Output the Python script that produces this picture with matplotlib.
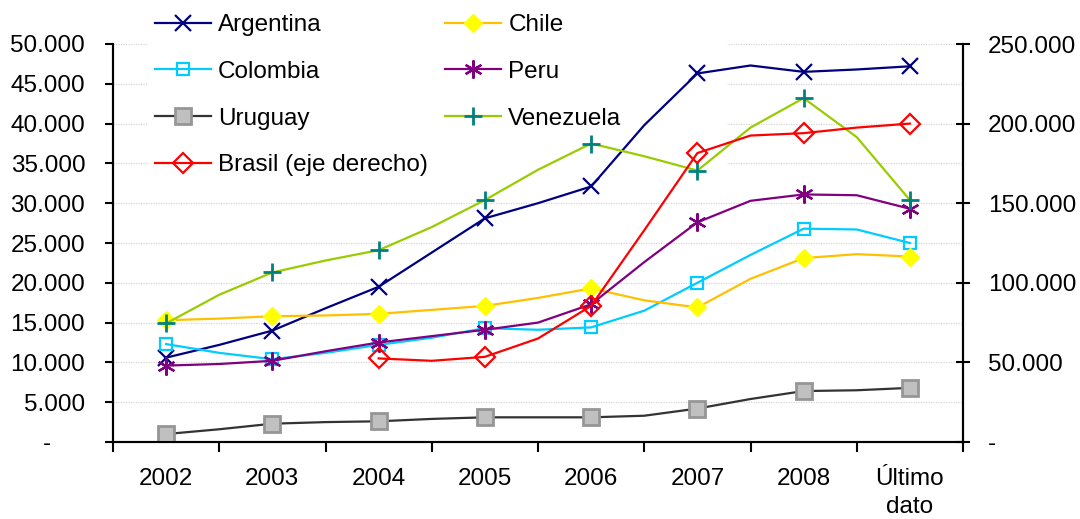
import matplotlib.pyplot as plt
from matplotlib.patches import Rectangle
from matplotlib.ticker import FixedLocator, FuncFormatter
import numpy as np

plt.rcParams['font.family'] = ['Liberation Sans', 'DejaVu Sans']

categories = ["2002", "2003", "2004", "2005", "2006", "2007", "2008", "Último\ndato"]

# values read at every half category (markers only on the whole ones)
argentina = [10.6, 12.2, 14.0, 16.8, 19.5, 23.8, 28.1, 30.0, 32.1, 39.8, 46.3, 47.3, 46.5, 46.8, 47.2]
chile = [15.3, 15.5, 15.8, 15.9, 16.1, 16.6, 17.1, 18.1, 19.3, 17.8, 16.9, 20.5, 23.1, 23.6, 23.3]
colombia = [12.3, 11.2, 10.4, 11.2, 12.2, 13.1, 14.3, 14.1, 14.4, 16.5, 20.0, 23.5, 26.8, 26.7, 25.0]
peru = [9.6, 9.8, 10.2, 11.4, 12.5, 13.3, 14.1, 15.0, 17.3, 22.6, 27.6, 30.3, 31.1, 31.0, 29.3]
uruguay = [1.0, 1.6, 2.3, 2.5, 2.6, 2.9, 3.1, 3.1, 3.1, 3.3, 4.2, 5.4, 6.4, 6.5, 6.8]
venezuela = [14.9, 18.5, 21.3, 22.8, 24.1, 27.0, 30.4, 34.2, 37.5, 35.9, 34.1, 39.5, 43.2, 38.3, 30.4]
brasil = [None, None, None, None, 52.5, 51.0, 53.5, 65.0, 85.5, 133.0, 181.5, 192.5, 194.0, 197.5, 200.0]

x = np.arange(len(argentina)) / 2.0
FS = 17.5


def to_num(vals):
    return np.array([np.nan if v is None else v * 1000 for v in vals])


def miles(v, pos=None):
    if v == 0:
        return "-     "
    return f"{v:,.0f}".replace(",", ".")


fig = plt.figure(figsize=(10.8, 5.19), dpi=100)
ax = fig.add_axes([113 / 1080, 77 / 519, 850 / 1080, 398 / 519])
ax2 = ax.twinx()

every = slice(0, None, 2)
handles = []
series = [
    ("Argentina", argentina, dict(color="#000080", marker="x", ms=11, mew=1.6)),
    ("Colombia", colombia, dict(color="#00CCFF", marker="s", ms=9, mew=1.6, mfc="none")),
    ("Uruguay", uruguay, dict(color="#333333", marker="s", ms=11, mew=2, mfc="#C0C0C0", mec="#969696")),
    ("Chile", chile, dict(color="#FFC000", marker="D", ms=9, mfc="#FFFF00", mec="#FFFF00")),
    ("Peru", peru, dict(color="#800080", marker=(6, 2, 0), ms=13, mew=1.6)),
    ("Venezuela", venezuela, dict(color="#99CC00", marker="+", ms=13, mew=2, mec="#008080")),
]
for name, vals, style in series:
    h, = ax.plot(x, to_num(vals), lw=1.6, markevery=every, label=name, zorder=3, **style)
    handles.append(h)

hb, = ax2.plot(x, to_num(brasil), color="#FF0000", lw=1.6, marker="D", ms=10, mew=1.6,
               mfc="none", markevery=every, label="Brasil (eje derecho)", zorder=3)

order = [handles[0], handles[1], handles[2], hb, handles[3], handles[4], handles[5]]

ax.set_xlim(-0.5, len(categories) - 0.5)
ax.set_ylim(0, 50000)
ax2.set_ylim(0, 250000)

ax.set_yticks(np.arange(0, 50001, 5000))
ax.yaxis.set_major_formatter(FuncFormatter(miles))
ax2.set_yticks(np.arange(0, 250001, 50000))
ax2.yaxis.set_major_formatter(FuncFormatter(miles))

ax.xaxis.set_major_locator(FixedLocator(np.arange(-0.5, len(categories), 1.0)))
ax.xaxis.set_major_formatter(FuncFormatter(lambda v, p: ""))
ax.xaxis.set_minor_locator(FixedLocator(np.arange(len(categories))))
ax.set_xticklabels(categories, minor=True, linespacing=1.35)

ax.tick_params(axis="x", which="major", direction="out", length=7, width=1.5)
ax.tick_params(axis="x", which="minor", length=0, pad=19, labelsize=FS)
ax.tick_params(axis="y", direction="out", length=6, width=1.5, pad=14, labelsize=FS)
ax2.tick_params(axis="y", direction="inout", length=10, width=1.5, pad=13, labelsize=FS)

for a in (ax, ax2):
    a.spines["top"].set_visible(False)
    for s in ("left", "right", "bottom"):
        a.spines[s].set_linewidth(1.5)

ax.set_axisbelow(True)
ax.yaxis.grid(True, color="#D6D6D6", linestyle=(0, (1, 1)), linewidth=0.9)

# white legend area that hides the gridlines behind it
ax.add_patch(Rectangle((0.04, 0.645), 0.682, 0.37, transform=ax.transAxes,
                       facecolor="white", edgecolor="none", zorder=1, clip_on=False))

fig.legend(handles=order, labels=[h.get_label() for h in order], ncol=2,
           loc="upper left", bbox_to_anchor=(155 / 1080, 1 - 14 / 519),
           frameon=False, fontsize=FS, handlelength=2.3, handletextpad=0.3,
           labelspacing=1.02, columnspacing=0.7, borderpad=0, borderaxespad=0)

plt.savefig("out.png")
